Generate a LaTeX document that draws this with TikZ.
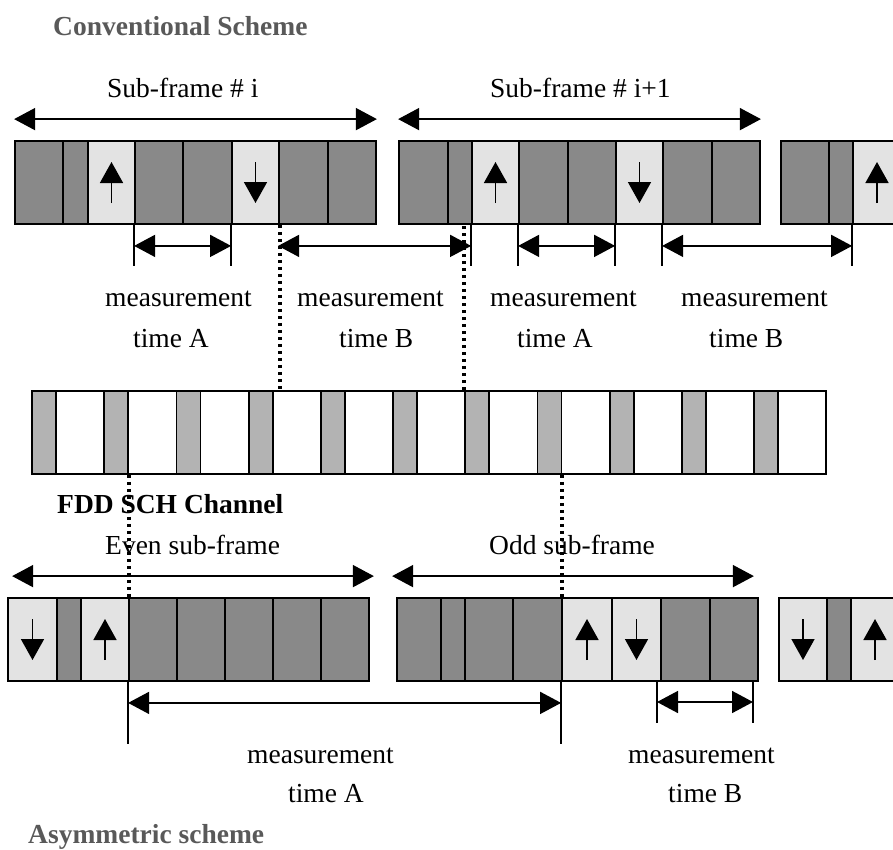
\documentclass[tikz,border=0pt]{standalone}
\usepackage{fontspec}
\setmainfont{Liberation Serif}
\usetikzlibrary{arrows.meta}
\definecolor{celldark}{HTML}{898989}
\definecolor{celllight}{HTML}{E3E3E3}
\definecolor{schgrey}{HTML}{B3B3B3}
\definecolor{headgrey}{HTML}{595959}

\begin{document}
\begin{tikzpicture}[x=1pt, y=-1pt,
    cell/.style={draw, line width=1.8pt, inner sep=0pt, minimum height=83pt},
    darkcell/.style={cell, fill=celldark},
    litecell/.style={cell, fill=celllight},
    upcell/.style={litecell, path picture={
        \draw[cellarrow] ([yshift=-20.5pt]path picture bounding box.center)
          -- ([yshift=20.5pt]path picture bounding box.center);}},
    downcell/.style={litecell, path picture={
        \draw[cellarrow] ([yshift=20.5pt]path picture bounding box.center)
          -- ([yshift=-20.5pt]path picture bounding box.center);}},
    schcell/.style={cell, fill=schgrey, minimum width=24pt},
    cellarrow/.style={line width=1.6pt, -{Triangle[length=21pt,width=23pt]}},
    measarrow/.style={line width=1.6pt,
      {Triangle[length=21pt,width=22pt]}-{Triangle[length=21pt,width=22pt]}},
    measline/.style={line width=1.6pt},
    dotline/.style={line width=4pt, dash pattern=on 3.5pt off 3.5pt},
    lbl/.style={font=\fontsize{27.5}{33}\selectfont, inner sep=0pt, anchor=base west},
    heading/.style={lbl, font=\fontsize{27.5}{33}\selectfont\bfseries}]
  \useasboundingbox (0,0) rectangle (893,849);
  \clip (0,0) rectangle (893,849);

  % conventional scheme: two sub-frames and the start of a third
  \node[heading, text=headgrey] (conv) at (53,35) {Conventional Scheme};
  \foreach \n/\l/\r/\s in {1/15/63/darkcell, 2/63/88/darkcell, 3/88/135/upcell,
      4/135/183/darkcell, 5/183/232/darkcell, 6/232/279/downcell,
      7/279/328/darkcell, 8/328/376/darkcell}
    \node[\s, minimum width=\r-\l] (a\n) at ({(\l+\r)/2},182.5) {};
  \foreach \n/\l/\r/\s in {1/399/448/darkcell, 2/448/472/darkcell, 3/472/519/upcell,
      4/519/568/darkcell, 5/568/616/darkcell, 6/616/663/downcell,
      7/663/712/darkcell, 8/712/760/darkcell}
    \node[\s, minimum width=\r-\l] (b\n) at ({(\l+\r)/2},182.5) {};
  \foreach \n/\l/\r/\s in {1/781/829/darkcell, 2/829/853/darkcell, 3/853/901/upcell}
    \node[\s, minimum width=\r-\l] (c\n) at ({(\l+\r)/2},182.5) {};

  \node[lbl] (subi) at (107,97) {Sub-frame \# i};
  \node[lbl] (subj) at (490,97) {Sub-frame \# i+1};
  \draw[measarrow] ([yshift=21pt]a1.north west) -- ([yshift=21pt]a8.north east);
  \draw[measarrow] ([yshift=21pt]b1.north west) -- ([yshift=21pt]b8.north east);

  \foreach \c in {a4,a6,b3,b4,b6,b7,c3}
    \draw[measline] (\c.south west) -- ++(0,41);
  \draw[measarrow] ([yshift=-21pt]a4.south west) -- ([yshift=-21pt]a6.south west);
  \draw[measarrow] ([yshift=-21pt]a7.south west) -- ([yshift=-21pt]b3.south west);
  \draw[measarrow] ([yshift=-21pt]b4.south west) -- ([yshift=-21pt]b6.south west);
  \draw[measarrow] ([yshift=-21pt]b7.south west) -- ([yshift=-21pt]c3.south west);

  \node[lbl] (mA1) at (105,306) {measurement};
  \node[lbl] (tA1) at (133,347) {time A};
  \node[lbl] (mB1) at (297,306) {measurement};
  \node[lbl] (tB1) at (339,347) {time B};
  \node[lbl] (mA2) at (490,306) {measurement};
  \node[lbl] (tA2) at (517,347) {time A};
  \node[lbl] (mB2) at (681,306) {measurement};
  \node[lbl] (tB2) at (709,347) {time B};

  % FDD SCH channel
  \node[cell, fill=white, minimum width=794pt] (sch) at (429,432.5) {};
  \foreach \k in {0,...,10}
    \node[schcell] (g\k) at ({44+72.2*\k},432.5) {};
  \node[heading] (fdd) at (57,513) {FDD SCH Channel};

  % asymmetric scheme
  \foreach \n/\l/\r/\s in {1/8/57/downcell, 2/57/81/darkcell, 3/81/129/upcell,
      4/129/177/darkcell, 5/177/225/darkcell, 6/225/273/darkcell,
      7/273/321/darkcell, 8/321/369/darkcell}
    \node[\s, minimum width=\r-\l] (d\n) at ({(\l+\r)/2},639.5) {};
  \foreach \n/\l/\r/\s in {1/397/441/darkcell, 2/441/465/darkcell, 3/465/513/darkcell,
      4/513/562/darkcell, 5/562/612/upcell, 6/612/661/downcell,
      7/661/710/darkcell, 8/710/758/darkcell}
    \node[\s, minimum width=\r-\l] (e\n) at ({(\l+\r)/2},639.5) {};
  \foreach \n/\l/\r/\s in {1/779/827/downcell, 2/827/851/darkcell, 3/851/899/upcell}
    \node[\s, minimum width=\r-\l] (f\n) at ({(\l+\r)/2},639.5) {};

  \node[lbl] (even) at (105,554) {Even sub-frame};
  \node[lbl] (odd) at (489,554) {Odd sub-frame};
  \draw[measarrow] ([xshift=5pt,yshift=21pt]d1.north west)
    -- ([xshift=4pt,yshift=21pt]d8.north east);
  \draw[measarrow] ([xshift=-4pt,yshift=21pt]e1.north west)
    -- ([xshift=-5pt,yshift=21pt]e8.north east);

  \coordinate (bB1) at (657,681);
  \coordinate (bB2) at (753,681);
  \draw[measline] (d4.south west) -- ++(0,62);
  \draw[measline] (e5.south west) -- ++(0,62);
  \draw[measline] (bB1) -- ++(0,42);
  \draw[measline] (bB2) -- ++(0,42);
  \draw[measarrow] ([yshift=-21pt]d4.south west) -- ([yshift=-21pt]e5.south west);
  \draw[measarrow] ([yshift=-21pt]bB1) -- ([yshift=-21pt]bB2);

  \node[lbl] (mA3) at (247,763) {measurement};
  \node[lbl] (tA3) at (288,802) {time A};
  \node[lbl] (mB3) at (628,763) {measurement};
  \node[lbl] (tB3) at (668,802) {time B};
  \node[heading, text=headgrey] (asym) at (28,843) {Asymmetric scheme};

  % alignment between the rows
  \draw[dotline] (a6.south east) -- (a6.south east |- sch.north);
  \draw[dotline] (g6.north west) -- (g6.north west |- a1.south);
  \draw[dotline] (g1.south east) -- (g1.south east |- d1.north);
  \draw[dotline] (g7.south east) -- (g7.south east |- e1.north);
\end{tikzpicture}
\end{document}
